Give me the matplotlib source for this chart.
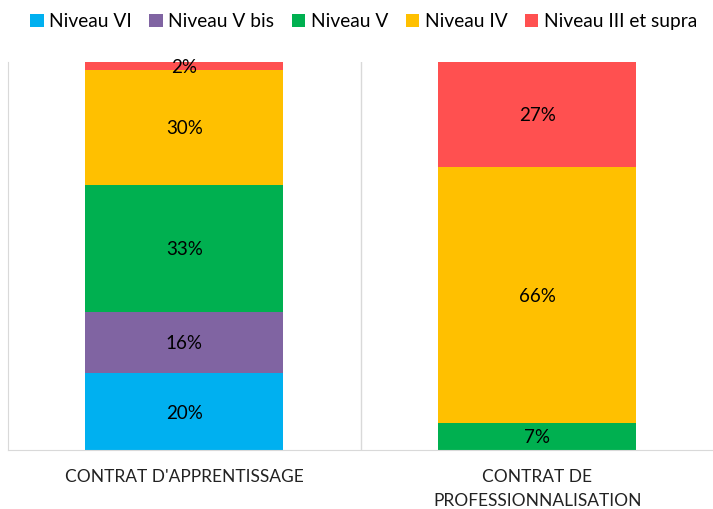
import matplotlib
matplotlib.use("Agg")
import matplotlib.pyplot as plt
import numpy as np

categories = ["CONTRAT D'APPRENTISSAGE", "CONTRAT DE\nPROFESSIONNALISATION"]
series_names = ["Niveau VI", "Niveau V bis", "Niveau V", "Niveau IV", "Niveau III et supra"]
niveau_vi = [20, 0]
niveau_v_bis = [16, 0]
niveau_v = [33, 7]
niveau_iv = [30, 66]
niveau_iii = [2, 27]
colors = ["#00B0F0", "#8064A2", "#00B050", "#FFC000", "#FF5050"]

series = [niveau_vi, niveau_v_bis, niveau_v, niveau_iv, niveau_iii]
data = np.array(series, dtype=float)
totals = data.sum(axis=0)
shares = data / totals * 100

plt.rcParams['font.family'] = ['Lato', 'DejaVu Sans']
fig = plt.figure(figsize=(7.13, 5.09), dpi=100)
ax = fig.add_axes([0.011, 0.116, 0.99, 0.762])

x = np.arange(len(categories))
bottom = np.zeros(len(categories))
handles = []
for name, vals, sh, c in zip(series_names, series, shares, colors):
    b = ax.bar(x, sh, width=0.56, bottom=bottom, color=c, label=name, linewidth=0)
    handles.append(b)
    for i in range(len(categories)):
        if vals[i] > 0:
            ax.text(x[i], bottom[i] + sh[i] / 2, f"{vals[i]}%", ha="center", va="center_baseline",
                    fontsize=13.5, color="#000000")
    bottom += sh

ax.set_xlim(-0.5, 1.5)
ax.set_ylim(0, 100)
ax.set_yticks([])
ax.set_xticks(x)
ax.set_xticklabels(categories, fontsize=12.5, color="#222222", linespacing=1.55)
ax.tick_params(axis='x', length=0, pad=14)
ax.axvline(0.5, color="#D9D9D9", linewidth=1)
for s in ["top", "right"]:
    ax.spines[s].set_visible(False)
for s in ["left", "bottom"]:
    ax.spines[s].set_color("#D9D9D9")

fig.legend(handles=handles, labels=series_names, loc="upper center", bbox_to_anchor=(0.51, 1.0),
           ncol=5, frameon=False, fontsize=13.8, handlelength=0.7, handleheight=0.7,
           handletextpad=0.3, columnspacing=0.9, borderaxespad=0.3)

fig.savefig("out.png", dpi=100)
